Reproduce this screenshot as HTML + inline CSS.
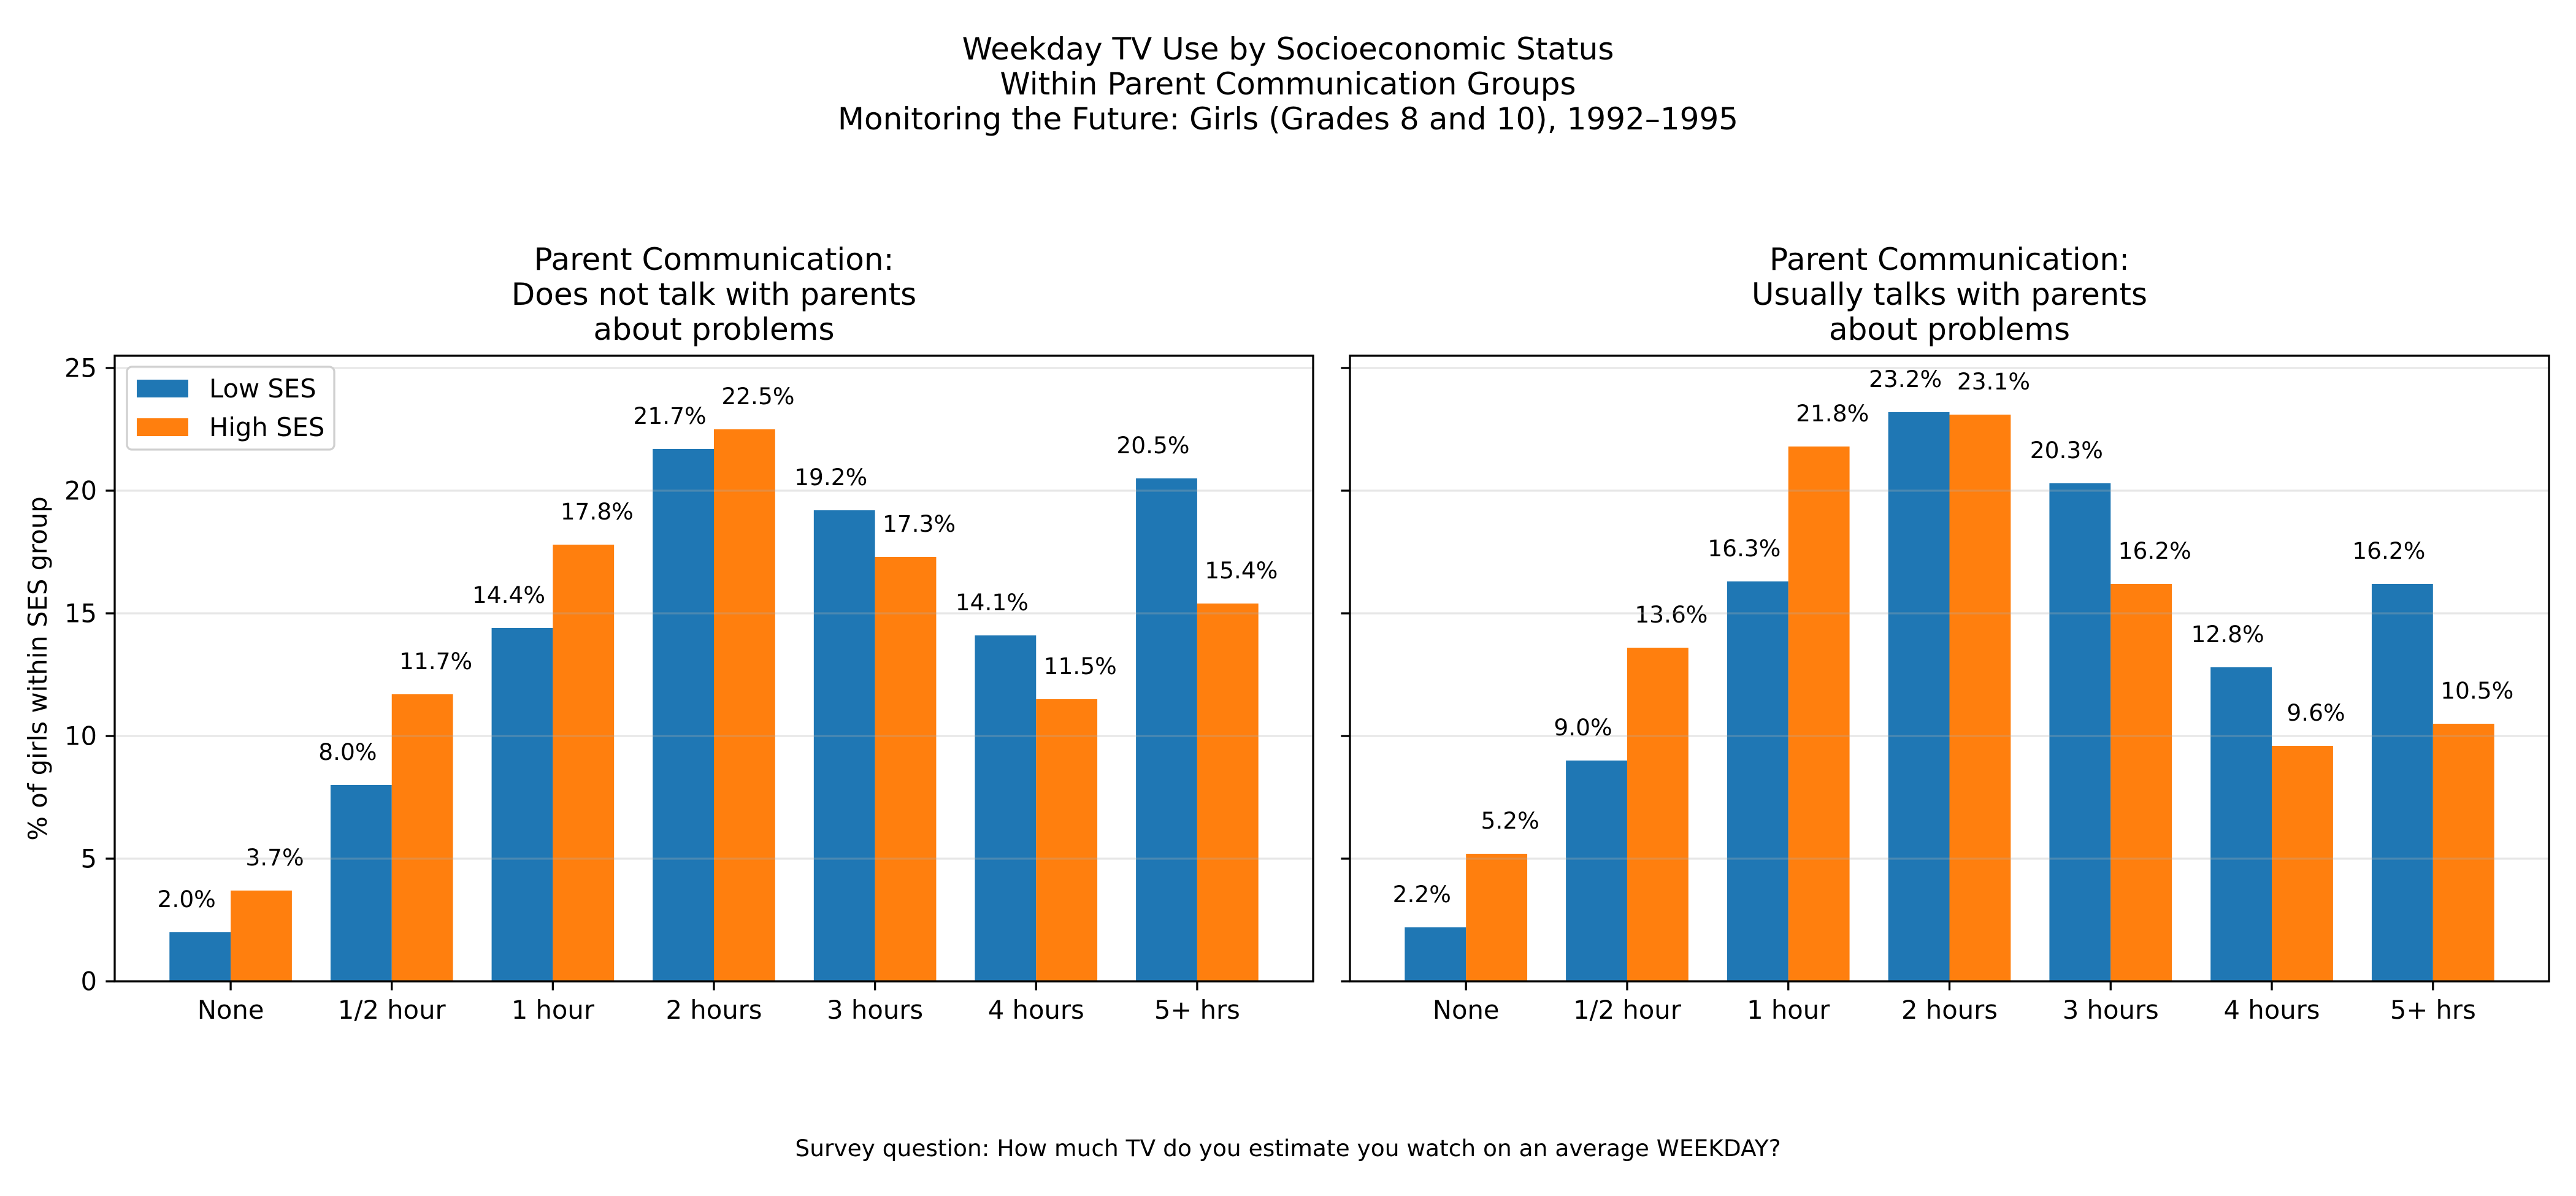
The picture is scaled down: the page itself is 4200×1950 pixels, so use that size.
<!DOCTYPE html>
<html><head><meta charset="utf-8"><style>
html,body{margin:0;padding:0;background:#fff}
svg{display:block;font-family:"DejaVu Sans","Liberation Sans",sans-serif}
</style></head><body>
<svg id="fig" width="4200" height="1950" viewBox="0 0 4200 1950" xmlns="http://www.w3.org/2000/svg">
<rect width="4200" height="1950" fill="#fff"/>
<g font-size="50" text-anchor="middle">
<text x="2100" y="97">Weekday TV Use by Socioeconomic Status</text>
<text x="2100" y="154">Within Parent Communication Groups</text>
<text x="2100" y="211">Monitoring the Future: Girls (Grades 8 and 10), 1992–1995</text>
</g>
<text x="2100" y="1885" font-size="37.5" text-anchor="middle">Survey question: How much TV do you estimate you watch on an average WEEKDAY?</text>
<text transform="translate(76,1090) rotate(-90)" font-size="41.7" text-anchor="middle">% of girls within SES group</text>
<g id="plots"></g>
</svg>
<script>
const categories = ["None","1/2 hour","1 hour","2 hours","3 hours","4 hours","5+ hrs"];
const leftLow  = [2.0, 8.0, 14.4, 21.7, 19.2, 14.1, 20.5];
const leftHigh = [3.7, 11.7, 17.8, 22.5, 17.3, 11.5, 15.4];
const rightLow  = [2.2, 9.0, 16.3, 23.2, 20.3, 12.8, 16.2];
const rightHigh = [5.2, 13.6, 21.8, 23.1, 16.2, 9.6, 10.5];
const yTicks = [0, 5, 10, 15, 20, 25];
const seriesNames = ["Low SES","High SES"];

const NS = "http://www.w3.org/2000/svg";
const root = document.getElementById('plots');
function mk(tag, attrs, parent){ const e=document.createElementNS(NS,tag); for(const k in attrs) e.setAttribute(k,attrs[k]); (parent||root).appendChild(e); return e; }

const plotTop=580, plotBottom=1600, yMax=25.5, xMin=-0.72, xMax=6.72, bw=0.38;
const colors=["#1f77b4","#ff7f0e"];

function panel(left, right, low, high, titleLines, showYLabels, showLegend, name){
  const g = mk('g',{});
  
  
  const xs = v => left + (v - xMin) / (xMax - xMin) * (right - left);
  const ys = v => plotBottom - v / yMax * (plotBottom - plotTop);
  titleLines.forEach((t,i)=>{
    const tx = mk('text',{x:(left+right)/2, y:440+i*57, 'font-size':50, 'text-anchor':'middle'}, g);
    
    
    tx.textContent=t;
  });
  [low, high].forEach((arr, s)=>{
    arr.forEach((v,i)=>{
      const x0 = s===0 ? xs(i-bw) : xs(i);
      const r = mk('rect',{x:x0, y:ys(v), width:xs(i+bw)-xs(i), height:ys(0)-ys(v), fill:colors[s]}, g);
      
      
      const cx = (s===0 ? xs(i-bw/2) - 22 : xs(i+bw/2) + 22);
      const lt = mk('text',{x:cx, y:ys(v)-41, 'font-size':37.5, 'text-anchor':'middle'}, g);
      
      
      lt.textContent = v.toFixed(1)+'%';
    });
  });
  yTicks.forEach(t=>{
    const l = mk('line',{x1:left, x2:right, y1:ys(t), y2:ys(t), stroke:'#b0b0b0', 'stroke-opacity':0.3, 'stroke-width':3.3}, g);
    
    
    const tk = mk('line',{x1:left-14.6, x2:left, y1:ys(t), y2:ys(t), stroke:'#000', 'stroke-width':3.3}, g);
    
    
    if(showYLabels){
      const tl = mk('text',{x:left-29, y:ys(t)+14.5, 'font-size':41.7, 'text-anchor':'end'}, g);
      
      
      tl.textContent = t;
    }
  });
  categories.forEach((c,i)=>{
    const tk = mk('line',{x1:xs(i), x2:xs(i), y1:plotBottom, y2:plotBottom+14.6, stroke:'#000', 'stroke-width':3.3}, g);
    
    
    const tl = mk('text',{x:xs(i), y:1661, 'font-size':41.7, 'text-anchor':'middle'}, g);
    
    
    tl.textContent = c;
  });
  const fr = mk('rect',{x:left, y:plotTop, width:right-left, height:plotBottom-plotTop, fill:'none', stroke:'#000', 'stroke-width':3.3}, g);
  
  
  if(showLegend){
    const lg = mk('g',{}, g);
    
    
    mk('rect',{x:207, y:598, width:338, height:135, rx:8, fill:'#fff', 'fill-opacity':0.8, stroke:'#d0d0d0', 'stroke-width':3.3}, lg);
    seriesNames.forEach((n,s)=>{
      const e = mk('g',{}, lg);
      
      
      mk('rect',{x:223, y:619+s*63, width:84, height:29, fill:colors[s]}, e);
      const t = mk('text',{x:341, y:648+s*63, 'font-size':41.7}, e);
      t.textContent = n;
    });
  }
}
panel(187, 2141, leftLow, leftHigh, ["Parent Communication:","Does not talk with parents","about problems"], true, true, 'left-panel');
panel(2201, 4156, rightLow, rightHigh, ["Parent Communication:","Usually talks with parents","about problems"], false, false, 'right-panel');
</script>
</body></html>
